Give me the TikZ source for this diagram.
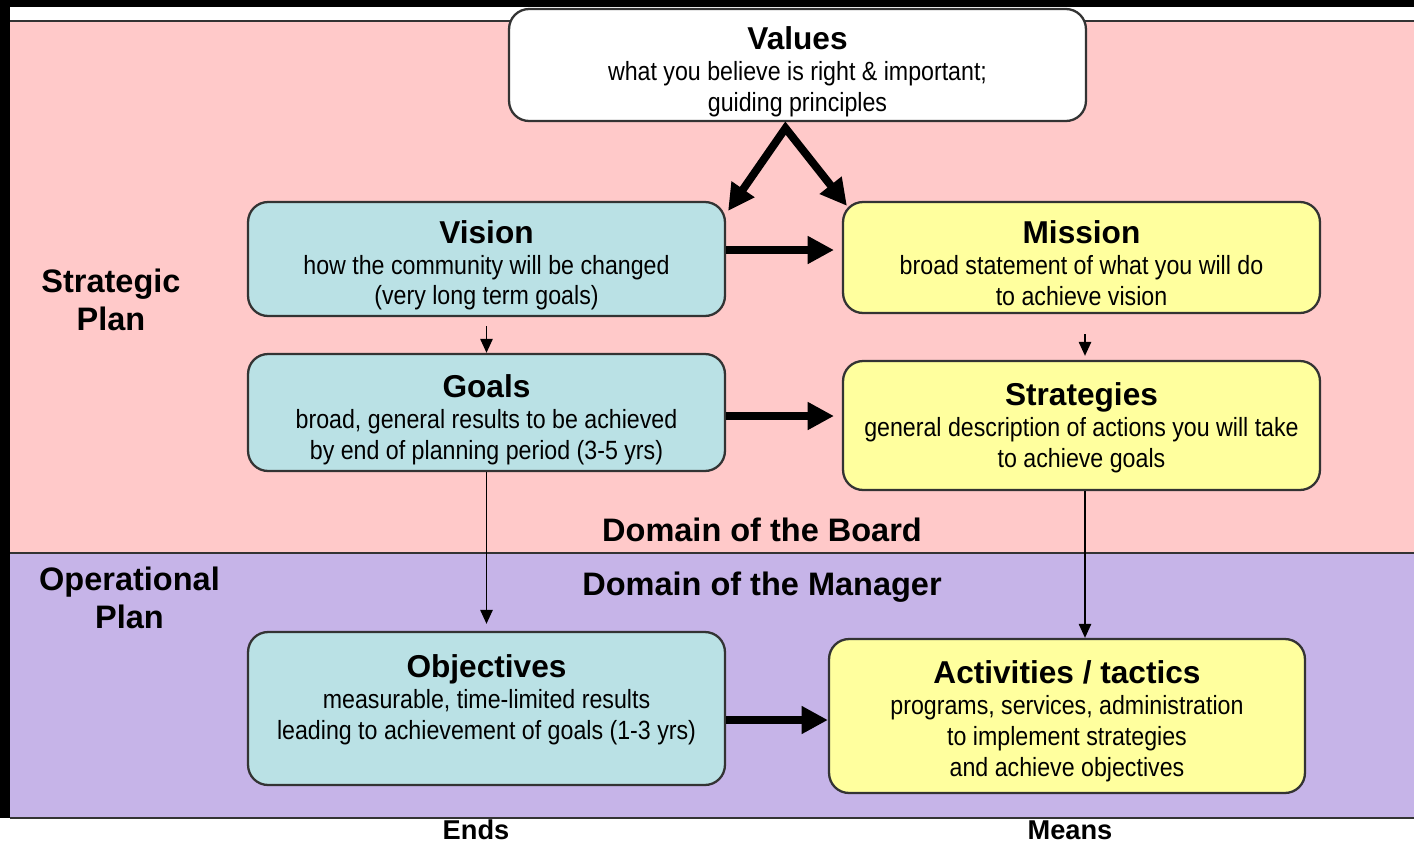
\documentclass[tikz,border=0pt]{standalone}
\usepackage{fontspec}
\usetikzlibrary{arrows.meta}
\setmainfont{Liberation Sans}
\newfontfamily\bodyfont{Liberation Sans}[FakeStretch=0.88]
\definecolor{boardpink}{HTML}{FFC9C9}
\definecolor{managerlilac}{HTML}{C6B4E8}
\definecolor{endsblue}{HTML}{BAE1E5}
\definecolor{meansyellow}{HTML}{FFFF9E}
\definecolor{edgegray}{HTML}{333333}
\tikzset{
  plan/.style={draw=edgegray, line width=1.3pt, rounded corners=0.4cm, align=center,
    font=\bodyfont\fontsize{15}{17.6}\selectfont, inner sep=0pt},
  ends/.style={plan, fill=endsblue, minimum width=9.54cm},
  means/.style={plan, fill=meansyellow, minimum width=9.54cm},
  heading/.style={font=\bfseries\fontsize{18.5}{22}\selectfont, align=center},
  footer/.style={heading, font=\bfseries\fontsize{15.5}{18}\selectfont, inner sep=0pt},
  bigarrow/.style={line width=4.5pt, -{Triangle[length=15pt,width=15pt]}},
  smallarrow/.style={line width=1.1pt, -{Triangle[length=8pt,width=7pt]}}
}
% optional argument pushes the text block down inside its box
\newcommand{\boxtitle}[2][0pt]{{\normalfont\bfseries\fontsize{18}{20}\selectfont\rule{0pt}{\dimexpr13.2pt+#1\relax}#2}\\}

\begin{document}
\begin{tikzpicture}[x=0.02cm,y=-0.02cm]
  \useasboundingbox (0,0) rectangle (1414,846);
  \fill[black] (0,0) rectangle (1414,7);
  \fill[black] (0,0) rectangle (10,818);
  \fill[white] (10,7) rectangle (1414,21);
  \fill[boardpink] (10,21) rectangle (1414,553);
  \fill[managerlilac] (10,553) rectangle (1414,818);
  \draw[edgegray, line width=1.2pt] (10,21) -- (1414,21) (10,553) -- (1414,553) (10,818) -- (1414,818);

  \node[plan, fill=white, minimum width=11.54cm, minimum height=2.24cm] (values) at (797.5,65)
    {\boxtitle[7.7pt]{Values}what you believe is right \& important;\\guiding principles};
  \node[ends, minimum height=2.28cm] (vision) at (486.5,259)
    {\boxtitle[7pt]{Vision}how the community will be changed\\(very long term goals)};
  \node[means, minimum height=2.22cm] (mission) at (1081.5,257.5)
    {\boxtitle[6pt]{Mission}broad statement of what you will do\\to achieve vision};
  \node[ends, minimum height=2.34cm] (goals) at (486.5,412.5)
    {\boxtitle[8.2pt]{Goals}broad, general results to be achieved\\by end of planning period (3-5 yrs)};
  \node[means, minimum height=2.58cm] (strategies) at (1081.5,425.5)
    {\boxtitle[2.6pt]{Strategies}general description of actions you will take\\to achieve goals};
  \node[ends, minimum height=3.06cm] (objectives) at (486.5,708.5)
    {\boxtitle{Objectives}measurable, time-limited results\\leading to achievement of goals (1-3 yrs)\\[-4pt]\mbox{}};
  \node[means, minimum width=9.52cm, minimum height=3.08cm] (activities) at (1067,716)
    {\boxtitle[6pt]{Activities / tactics}programs, services, administration\\to implement strategies\\and achieve objectives};

  \node[heading] (strategic) at (111,300) {Strategic\\Plan};
  \node[heading] (operational) at (129.5,598) {Operational\\Plan};
  \node[heading] (board) at (762,530) {Domain of the Board};
  \node[heading] (manager) at (762,587) {Domain of the Manager};
  \node[footer] (endslabel) at (476,830) {Ends};
  \node[footer] (meanslabel) at (1070,830) {Means};

  \draw[bigarrow, {Triangle[length=15pt,width=15pt]}-{Triangle[length=15pt,width=15pt]}, line join=miter]
    ([xshift=0.04cm,yshift=-0.2cm]vision.north east) -- ([xshift=-0.24cm,yshift=-0.12cm]values.south)
    -- ([xshift=0.1cm,yshift=-0.1cm]mission.north west);
  \draw[bigarrow, shorten >=4.5pt] ([yshift=0.18cm]vision.east) -- ([yshift=0.18cm]vision.east -| mission.west);
  \draw[bigarrow, shorten >=4.5pt] ([yshift=-0.07cm]goals.east) -- ([yshift=-0.07cm]goals.east -| strategies.west);
  \draw[bigarrow] ([yshift=-0.23cm]objectives.east) -- ([yshift=-0.23cm]objectives.east -| activities.west);

  \draw[smallarrow] ([yshift=-0.18cm]vision.south) -- (goals.north);
  \draw[smallarrow] ([xshift=0.07cm,yshift=-0.4cm]mission.south) -- ([xshift=0.07cm,yshift=0.08cm]strategies.north);
  \draw[smallarrow] (goals.south) -- ([yshift=0.14cm]objectives.north);
  \draw[smallarrow] ([xshift=0.07cm]strategies.south) -- ([xshift=0.07cm]strategies.south |- activities.north);
\end{tikzpicture}
\end{document}
